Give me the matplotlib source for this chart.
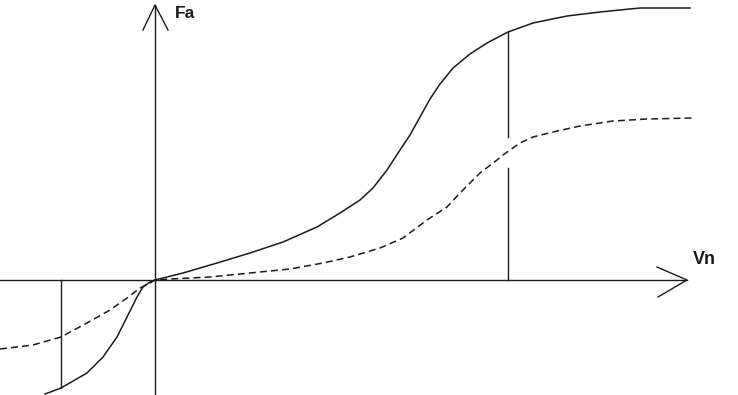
import numpy as np
import matplotlib
matplotlib.use("Agg")
import matplotlib.pyplot as plt

# Axes origin sits at the crossing of the two axes; units are roughly pixels
# solid curve (Vn, Fa)
solid_vn = [-110, -94, -68, -52, -38, -28, -18, -12, -5, 0, 28, 62, 95, 128, 162, 185,
            205, 218, 232, 245, 255, 265, 275, 285, 298, 315, 332, 353, 378, 412, 445, 485, 535]
solid_fa = [-114, -108, -93, -77, -57, -37, -17, -7, -2, 0, 7, 17, 27, 38, 53, 67,
            80, 92, 110, 130, 145, 163, 181, 196, 212, 226, 237, 248, 257, 264, 268, 272, 272]

# dashed curve (Vn, Fa)
dashed_vn = [-155, -122, -94, -68, -45, -28, -15, -5, 0, 15, 55, 95, 135, 168, 195,
             225, 248, 272, 292, 305, 325, 342, 348, 365, 378, 398, 425, 458, 492, 538]
dashed_fa = [-69, -65, -57, -43, -30, -18, -8, -3, 0, 1, 3, 7, 11, 17, 23,
             32, 42, 60, 73, 87, 107, 120, 125, 137, 143, 148, 154, 159, 161, 162]

# vertical marker lines: left one at Vn=-94, right one at Vn=353
left_mark_vn = -94
left_mark_fa = -108
right_mark_vn = 353
right_mark_fa = 248
right_gap = (112, 143)   # break where the dashed curve crosses

plt.rcParams['lines.scale_dashes'] = False
col = "#1a1a1a"

fig = plt.figure(figsize=(7.38, 3.95), dpi=100)
ax = fig.add_axes([0, 0, 1, 1])
ax.set_xlim(-155, 583)
ax.set_ylim(-115, 280)
ax.axis("off")

# axes with arrow heads
ax.plot([0, 0], [-115, 275], color=col, lw=1.0)
ax.plot([-12, 0, 13], [250, 275, 250], color=col, lw=1.0)
ax.plot([-155, 532], [0, 0], color=col, lw=1.0)
ax.plot([502, 532, 503], [13, 0, -17], color=col, lw=1.0)

ax.text(20, 266, "Fa", fontsize=12.5, fontweight="bold", family="Liberation Sans",
        ha="left", va="center", color=col)
ax.text(538, 21, "Vn", fontsize=13, fontweight="bold", family="Liberation Sans",
        ha="left", va="center", color=col)

# curves
ax.plot(solid_vn, solid_fa, color=col, lw=1.1)
ax.plot(dashed_vn, dashed_fa, color=col, lw=1.1, linestyle=(0, (5, 3)))

# vertical markers
ax.plot([left_mark_vn, left_mark_vn], [0, left_mark_fa], color=col, lw=1.0)
ax.plot([right_mark_vn, right_mark_vn], [0, right_gap[0]], color=col, lw=1.0)
ax.plot([right_mark_vn, right_mark_vn], [right_gap[1], right_mark_fa], color=col, lw=1.0)

fig.savefig("out.png", dpi=100, facecolor="white")
